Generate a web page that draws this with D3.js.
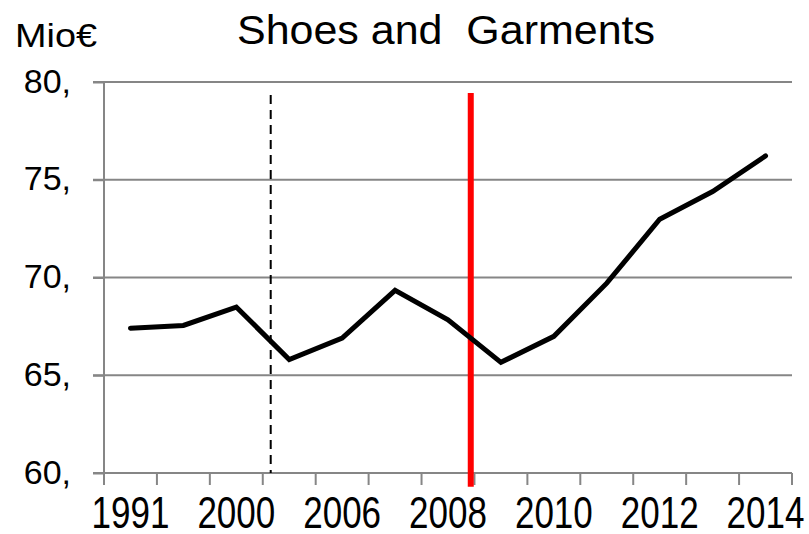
<!DOCTYPE html>
<html>
<head>
<meta charset="utf-8">
<script src="https://cdn.jsdelivr.net/npm/d3@7"></script>
<style>
  body { margin: 0; background: #fff; }
  svg { display: block; font-family: "Liberation Sans", Arial, sans-serif; }
  .axis path, .axis line { stroke: #868686; stroke-width: 2; }
  .grid line { stroke: #868686; stroke-width: 2; }
</style>
</head>
<body>
<div id="chart"></div>
<script>
// categories (only every other one gets a label on the axis)
let years = ["1991", "1995", "2000", "2005", "2006", "2007", "2008",
             "2009", "2010", "2011", "2012", "2013", "2014"];
let spending = [67.41, 67.55, 68.49, 65.8, 66.9, 69.34, 67.84,
                65.66, 66.99, 69.71, 72.98, 74.4, 76.22];
let yTicks = [60, 65, 70, 75, 80];

let margin = {top: 82, right: 17, bottom: 61, left: 104};
let width = 809 - margin.left - margin.right,
    height = 534 - margin.top - margin.bottom;

let svg = d3.select("#chart").append("svg")
    .attr("width", width + margin.left + margin.right)
    .attr("height", height + margin.top + margin.bottom)
    .append("g")
    .attr("transform", "translate(" + margin.left + "," + margin.top + ")");

let x = d3.scaleBand()
    .domain(years)
    .range([0, width]);

// same axis but by category index, for the marker lines between categories
let xIdx = d3.scaleLinear()
    .domain([0, years.length])
    .range([0, width]);

let y = d3.scaleLinear()
    .domain([60, 80])
    .range([height, 0]);

// gridlines
svg.append("g")
    .attr("class", "grid")
    .selectAll("line")
    .data(yTicks)
    .enter()
    .append("line")
    .attr("x1", -11)
    .attr("x2", width)
    .attr("y1", d => y(d))
    .attr("y2", d => y(d));

// y axis
let yAxis = d3.axisLeft(y)
    .tickValues(yTicks)
    .tickSize(11)
    .tickPadding(22)
    .tickFormat(d => d + ",");

svg.append("g")
    .attr("class", "y-axis axis")
    .call(yAxis)
    .call(g => g.select(".domain").attr("d", "M0,0V" + height))
    .selectAll("text")
    .attr("fill", "#000")
    .attr("font-size", 34)
    .attr("dy", "0.3em");

// x axis: ticks on band edges
let xAxisGroup = svg.append("g")
    .attr("class", "x-axis axis")
    .attr("transform", "translate(0," + height + ")");

xAxisGroup.append("line")
    .attr("x1", 0)
    .attr("x2", width)
    .attr("y1", 0)
    .attr("y2", 0);

xAxisGroup.selectAll(".tick-mark")
    .data(d3.range(years.length + 1))
    .enter()
    .append("line")
    .attr("class", "tick-mark")
    .attr("x1", d => xIdx(d))
    .attr("x2", d => xIdx(d))
    .attr("y1", 0)
    .attr("y2", 12);

// labels in the original are drawn a bit taller than they are wide
xAxisGroup.selectAll(".year-label")
    .data(years.filter((d, i) => i % 2 === 0))
    .enter()
    .append("text")
    .attr("class", "year-label")
    .attr("transform", d => "translate(" + (x(d) + x.bandwidth() / 2) + ",55) scale(1,1.28)")
    .attr("text-anchor", "middle")
    .attr("font-size", 35)
    .attr("fill", "#000")
    .text(d => d);

// marker lines: dashed before the crisis, red at 2008
let markers = [
    {at: 3.15, top: 79.34, bottom: 60, color: "#000", w: 2, dash: "9,6"},
    {at: 6.93, top: 79.44, bottom: 59.3, color: "#ff0000", w: 6, dash: null}
];

svg.selectAll(".marker")
    .data(markers)
    .enter()
    .append("line")
    .attr("class", "marker")
    .attr("x1", d => xIdx(d.at))
    .attr("x2", d => xIdx(d.at))
    .attr("y1", d => y(d.top))
    .attr("y2", d => y(d.bottom))
    .attr("stroke", d => d.color)
    .attr("stroke-width", d => d.w)
    .attr("stroke-dasharray", d => d.dash);

// the series line
let line = d3.line()
    .x((d, i) => x(years[i]) + x.bandwidth() / 2)
    .y(d => y(d));

svg.append("path")
    .datum(spending)
    .attr("fill", "none")
    .attr("stroke", "#000")
    .attr("stroke-width", 5)
    .attr("stroke-linecap", "round")
    .attr("d", line);

// title + unit label
svg.append("text")
    .attr("x", 237 - margin.left)
    .attr("y", 44 - margin.top)
    .attr("font-size", 40)
    .attr("textLength", 418)
    .attr("lengthAdjust", "spacingAndGlyphs")
    .style("white-space", "pre")
    .text("Shoes and  Garments");

svg.append("text")
    .attr("x", 15 - margin.left)
    .attr("y", 47 - margin.top)
    .attr("font-size", 34)
    .attr("textLength", 82)
    .attr("lengthAdjust", "spacingAndGlyphs")
    .text("Mio€");
</script>
</body>
</html>
